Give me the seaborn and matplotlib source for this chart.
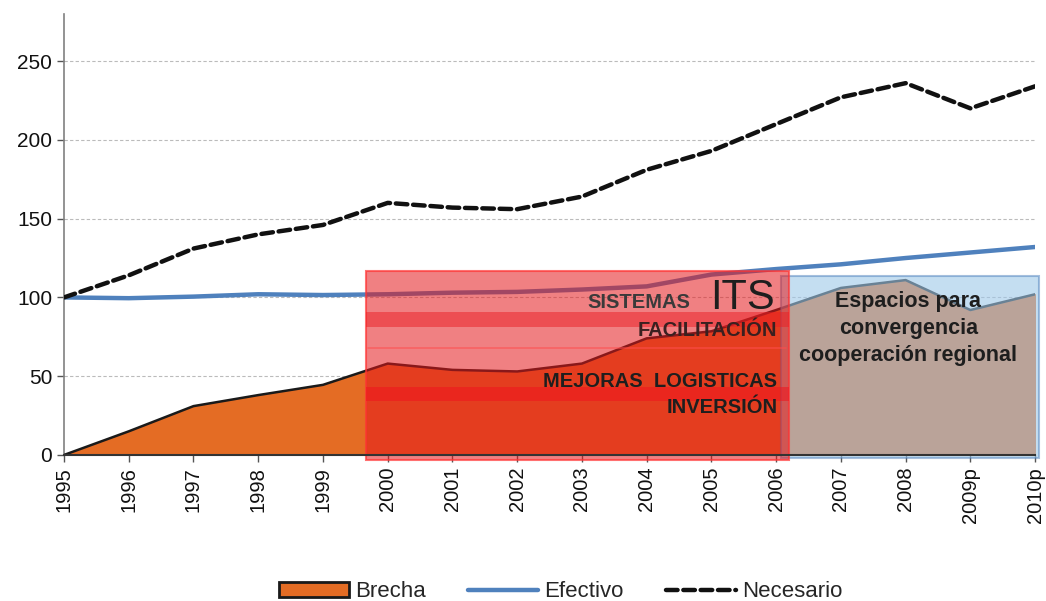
import numpy as np
import pandas as pd
import matplotlib
matplotlib.use("Agg")
import matplotlib.pyplot as plt
import seaborn as sns
from matplotlib.patches import Rectangle, Patch
from matplotlib.lines import Line2D

years = ["1995", "1996", "1997", "1998", "1999", "2000", "2001", "2002", "2003",
         "2004", "2005", "2006", "2007", "2008", "2009p", "2010p"]
necesario = [100, 114, 131, 140, 146, 160, 157, 156, 164, 181, 193, 210, 227, 236, 220, 234]
efectivo = [100, 99.5, 100.5, 102, 101.5, 102, 103, 103.5, 105, 107, 114.5, 118, 121, 125, 128.5, 132]
brecha = [0, 15, 31, 38, 44.5, 58, 54, 53, 58, 74, 78.5, 92, 106, 111, 92, 102]

sns.set_theme(style="white")
plt.rcParams['font.family'] = ['Liberation Sans', 'DejaVu Sans']

df = pd.DataFrame({"x": np.arange(len(years)), "Necesario": necesario,
                   "Efectivo": efectivo, "Brecha": brecha})

fig = plt.figure(figsize=(10.46, 6.01), dpi=100)
ax = fig.add_axes([0.0612, 0.243, 0.9284, 0.734])

orange = "#e46c24"
blue = "#4f81bd"
dash = (0, (2.6, 1.3))

ax.fill_between(df["x"], 0, df["Brecha"], color=orange, zorder=2)
ax.plot(df["x"], df["Brecha"], color="#1a1a1a", lw=1.8, zorder=3)
sns.lineplot(data=df, x="x", y="Efectivo", color=blue, lw=3.2, ax=ax, zorder=4)
sns.lineplot(data=df, x="x", y="Necesario", color="#111111", lw=3.2, ax=ax, zorder=4,
             linestyle=dash, dash_capstyle="round")

# overlays
ax.add_patch(Rectangle((4.67, -3), 11.2 - 4.67, 120, facecolor=(229/255, 24/255, 27/255, 0.55),
                       edgecolor=(1, 0.2, 0.2, 0.7), lw=1.5, zorder=6, clip_on=False))
ax.add_patch(Rectangle((4.67, 81), 11.2 - 4.67, 10, facecolor=(235/255, 30/255, 35/255, 0.5),
                       edgecolor="none", zorder=6, clip_on=False))
ax.add_patch(Rectangle((4.67, 34), 11.2 - 4.67, 9, facecolor=(240/255, 20/255, 30/255, 0.55),
                       edgecolor="none", zorder=6, clip_on=False))
ax.plot([4.7, 11.15], [68, 68], color=(1, 0.3, 0.3, 0.6), lw=1.2, zorder=6)
ax.add_patch(Rectangle((11.08, -2), 15.06 - 11.08, 115.6, facecolor=(158/255, 200/255, 233/255, 0.6),
                       edgecolor=(79/255, 129/255, 189/255, 0.5), lw=1.5, zorder=5, clip_on=False))

tc = "#1e1e1e"
ax.text(9.67, 96.5, "SISTEMAS", ha="right", va="center", fontsize=14.5, fontweight="bold",
        color="#3a3a3a", zorder=7)
ax.text(10.98, 99.5, "ITS", ha="right", va="center", fontsize=30, color=tc, zorder=7)
ax.text(11.02, 79, "FACILITACIÓN", ha="right", va="center", fontsize=14.5, fontweight="bold",
        color="#3a2020", zorder=7)
ax.text(11.02, 46.5, "MEJORAS  LOGISTICAS", ha="right", va="center", fontsize=14.5,
        fontweight="bold", color=tc, zorder=7)
ax.text(11.02, 30, "INVERSIÓN", ha="right", va="center", fontsize=14.5, fontweight="bold",
        color=tc, zorder=7)
ax.text(13.04, 80, "Espacios para\nconvergencia\ncooperación regional", ha="center",
        va="center", fontsize=15.5, fontweight="bold", color=tc, linespacing=1.38, zorder=7)

ax.set_xlim(0, 15)
ax.set_ylim(0, 280)
ax.set_xticks(np.arange(len(years)))
ax.set_xticklabels(years, rotation=90, fontsize=14.5, color="#111111")
ax.set_yticks([0, 50, 100, 150, 200, 250])
ax.set_yticklabels(["0", "50", "100", "150", "200", "250"], fontsize=15, color="#111111")
ax.set_xlabel("")
ax.set_ylabel("")
ax.yaxis.grid(True, color="#bbbbbb", linestyle=(0, (3, 2)), lw=0.8)
ax.xaxis.grid(False)
for s in ["top", "right"]:
    ax.spines[s].set_visible(False)
ax.spines["left"].set_color("#808080")
ax.spines["left"].set_linewidth(1.2)
ax.spines["bottom"].set_color("#333333")
ax.spines["bottom"].set_linewidth(1.5)
ax.spines["bottom"].set_zorder(8)
ax.tick_params(axis="both", which="both", length=5, width=1, color="#555555",
               bottom=True, left=True, direction="out")

handles = [Patch(facecolor=orange, edgecolor="#1a1a1a", lw=2, label="Brecha"),
           Line2D([], [], color=blue, lw=3.2, label="Efectivo"),
           Line2D([], [], color="#111111", lw=3.2, linestyle=dash, dash_capstyle="round",
                  label="Necesario")]
fig.legend(handles=handles, loc="center", bbox_to_anchor=(0.536, 0.015), ncol=3, frameon=False,
           fontsize=16, handlelength=3.15, handleheight=0.7, columnspacing=1.9, handletextpad=0.28)

fig.savefig("out.png", dpi=100)
